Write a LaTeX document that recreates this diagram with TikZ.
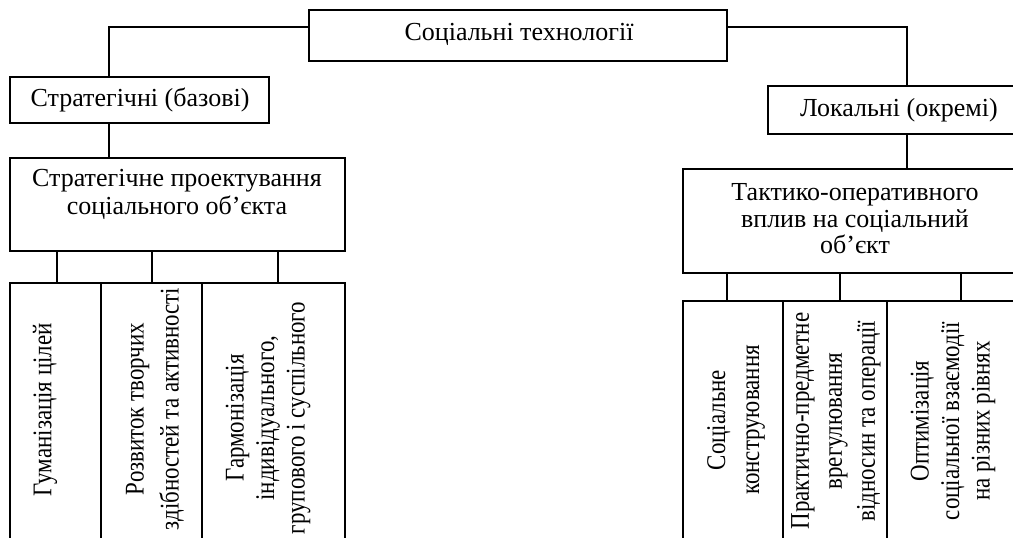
\documentclass[tikz,border=0pt]{standalone}
\usepackage{fontspec}
\setmainfont{Liberation Serif}
\newfontfamily\condfont[FakeStretch=0.85]{Liberation Serif}
\usetikzlibrary{fit}
\begin{document}
\begin{tikzpicture}[x=1pt,y=-1pt,
  box/.style={draw, line width=1.6pt, inner sep=0pt, fit={#1}},
  conn/.style={draw, line width=1.2pt},
  lbl/.style={inner sep=0pt, align=center, font=\fontsize{26}{28}\selectfont},
  vlbl/.style={inner sep=0pt, align=center, rotate=90, font=\condfont\fontsize{27}{#1}\selectfont}]
\useasboundingbox (0,0) rectangle (1013,538);
% boxes
\node[box={(309,10) (727,61)}] (top) {};
\node[box={(10,77) (269,123)}] (strat) {};
\node[box={(10,158) (345,251)}] (proj) {};
\node[box={(768,86) (1030,134)}] (local) {};
\node[box={(683,169) (1027,273)}] (tact) {};
\node[box={(10,283) (101,570)}] (l1) {};
\node[box={(101,283) (202,570)}] (l2) {};
\node[box={(202,283) (345,570)}] (l3) {};
\node[box={(683,301) (783,570)}] (r1) {};
\node[box={(783,301) (887,570)}] (r2) {};
\node[box={(887,301) (1017,570)}] (r3) {};
% labels
\node[lbl] (ttop) at (519,34) {Соціальні технології};
\node[lbl] (tstrat) at (140,100) {Стратегічні (базові)};
\node[lbl] (tproj) at (177,194) {Стратегічне проектування\\соціального об’єкта};
\node[lbl] (tlocal) at (899,110) {Локальні (окремі)};
\node[lbl,font=\fontsize{26}{26.5}\selectfont] (ttact) at (855,219) {Тактико-оперативного\\вплив на соціальний\\об’єкт};
\node[vlbl=33] (tl1) at (45,410) {Гуманізація цілей};
\node[vlbl=35] (tl2) at (155,409) {Розвиток творчих\\здібностей та активності};
\node[vlbl=30.5] (tl3) at (268,418) {Гармонізація\\індивідуального,\\групового і суспільного};
\node[vlbl=34] (tr1) at (736,420) {Соціальне\\конструювання};
\node[vlbl=33] (tr2) at (836,421) {Практично-предметне\\врегулювання\\відносин та операції};
\node[vlbl=30.5] (tr3) at (953,421) {Оптимізація\\соціальної взаємодії\\на різних рівнях};
% connector coordinates
\coordinate (jl) at (109,27);
\coordinate (jr) at (907,27);
\coordinate (a1) at (57,0);
\coordinate (a2) at (152,0);
\coordinate (a3) at (278,0);
\coordinate (b1) at (727,0);
\coordinate (b2) at (840,0);
\coordinate (b3) at (961,0);
% connectors
\draw[conn] (top.west |- jl) -| (strat.north -| jl);
\draw[conn] (top.east |- jr) -| (local.north -| jr);
\draw[conn] (strat.south -| jl) -- (proj.north -| jl);
\draw[conn] (local.south -| jr) -- (tact.north -| jr);
\draw[conn] (proj.south -| a1) -- (l1.north -| a1);
\draw[conn] (proj.south -| a2) -- (l2.north -| a2);
\draw[conn] (proj.south -| a3) -- (l3.north -| a3);
\draw[conn] (tact.south -| b1) -- (r1.north -| b1);
\draw[conn] (tact.south -| b2) -- (r2.north -| b2);
\draw[conn] (tact.south -| b3) -- (r3.north -| b3);
\end{tikzpicture}
\end{document}
